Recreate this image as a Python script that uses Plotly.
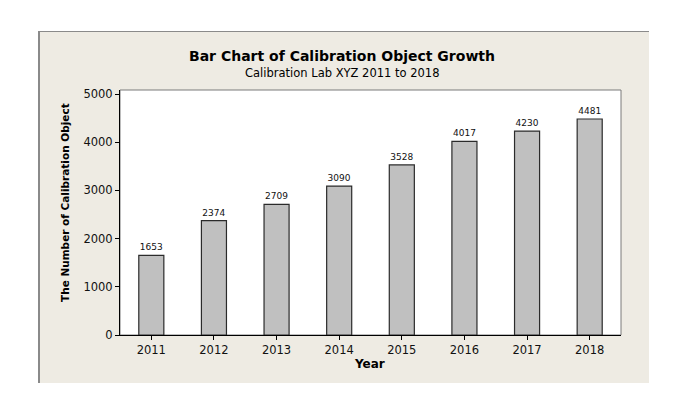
import plotly.graph_objects as go

years = ["2011", "2012", "2013", "2014", "2015", "2016", "2017", "2018"]
counts = [1653, 2374, 2709, 3090, 3528, 4017, 4230, 4481]
y_ticks = [0, 1000, 2000, 3000, 4000, 5000]

W, H = 676, 403
L, R, T, B = 120, 55, 90, 68
PW, PH = W - L - R, H - T - B


def xp(px):
    return (px - L) / PW


def yp(py):
    return (H - B - py) / PH


FONT = "DejaVu Sans"

fig = go.Figure()
fig.add_trace(go.Bar(
    x=years, y=counts, width=0.4,
    marker=dict(color="#C0C0C0", line=dict(color="#2b2b2b", width=1.2)),
    text=[str(v) for v in counts], textposition="outside",
    textfont=dict(family=FONT, size=9, color="#111"),
    cliponaxis=False,
))

shapes = [
    # outer frame
    dict(type="rect", xref="paper", yref="paper", x0=xp(38.5), x1=xp(649), y0=yp(383), y1=yp(31),
         fillcolor="#EEEBE3", line=dict(width=0), layer="below"),
    dict(type="line", xref="paper", yref="paper", x0=xp(39), x1=xp(39), y0=yp(383), y1=yp(31),
         line=dict(color="#8a8a8a", width=2), layer="below"),
    dict(type="line", xref="paper", yref="paper", x0=xp(38), x1=xp(649), y0=yp(31.5), y1=yp(31.5),
         line=dict(color="#8a8a8a", width=1), layer="below"),
    # plot area
    dict(type="rect", xref="paper", yref="paper", x0=0, x1=1, y0=0, y1=1,
         fillcolor="white", line=dict(color="#7a7a7a", width=1), layer="below"),
]


def ann(text, x, y, size, angle=0):
    return dict(text=text, x=xp(x), y=yp(y), xref="paper", yref="paper",
                xanchor="center", yanchor="middle", showarrow=False, textangle=angle,
                font=dict(family=FONT, size=size, color="black"))


annotations = [
    ann("<b>Bar Chart of Calibration Object Growth</b>", 341.5, 56.5, 14),
    ann("Calibration Lab XYZ 2011 to 2018", 341.5, 72.5, 11.5),
    ann("<b>The Number of Calibration Object</b>", 65, 203, 10.5, -90),
    ann("<b>Year</b>", 369, 363.5, 12),
]

fig.update_layout(
    width=W, height=H,
    margin=dict(l=L, r=R, t=T, b=B, pad=0),
    paper_bgcolor="white", plot_bgcolor="rgba(0,0,0,0)",
    showlegend=False,
    shapes=shapes, annotations=annotations,
    font=dict(family=FONT, size=12, color="black"),
)
fig.update_xaxes(
    range=[-0.5, 7.5], showgrid=False, zeroline=False,
    showline=True, linecolor="black", linewidth=1,
    ticks="outside", ticklen=4, tickcolor="black",
    tickfont=dict(family=FONT, size=11.5, color="#111"),
)
fig.update_yaxes(
    range=[0, 5083], tickvals=y_ticks, showgrid=False, zeroline=False,
    showline=True, linecolor="black", linewidth=1,
    ticks="outside", ticklen=4, tickcolor="black",
    tickfont=dict(family=FONT, size=11.5, color="#111"),
)

fig.write_html("out.html")
